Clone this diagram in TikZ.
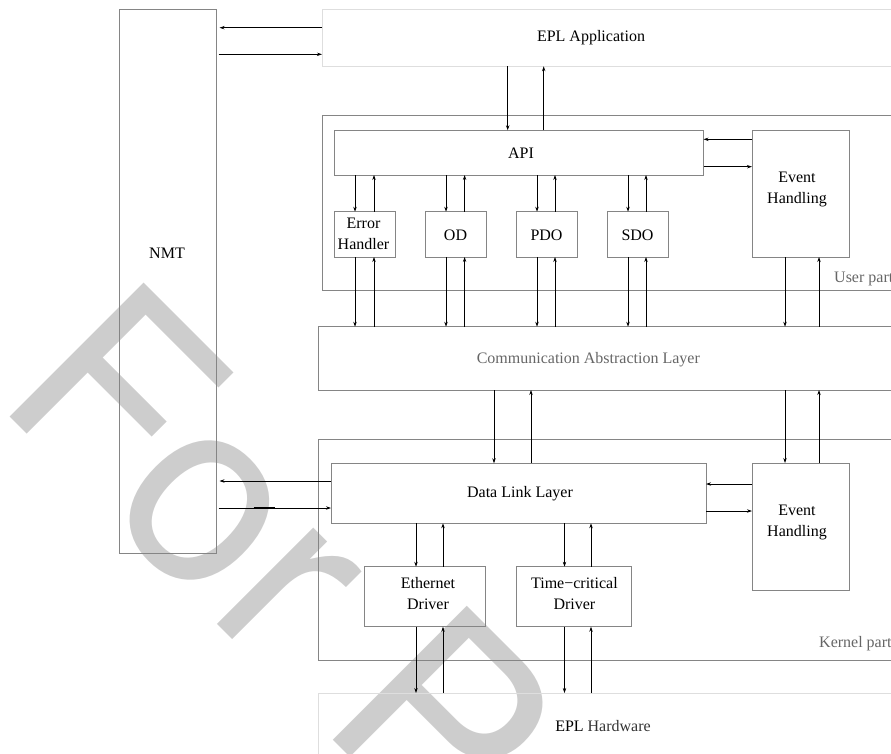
\documentclass[tikz,border=0pt]{standalone}
\usepackage{fontspec}
\setmainfont{Liberation Serif}
\newfontfamily\wmfont{TeX Gyre Heros}
\usetikzlibrary{arrows.meta}
\definecolor{edgegray}{HTML}{858585}
\definecolor{palegray}{HTML}{DEDEDE}
\definecolor{notegray}{HTML}{666666}
\definecolor{markgray}{HTML}{CDCDCD}
\newcommand\diagfont{\fontsize{16}{21}\selectfont}
\begin{document}
\begin{tikzpicture}[x=1pt,y=-1pt,
  box/.style={draw=edgegray,line width=0.9pt,inner sep=0pt,outer sep=0pt},
  pale/.style={draw=palegray,line width=0.9pt,inner sep=0pt,outer sep=0pt},
  txt/.style={inner sep=0pt,align=center,font=\diagfont},
  note/.style={inner sep=0pt,font=\diagfont,text=notegray},
  arr/.style={draw=black,line width=0.75pt,-{Stealth[length=5pt,width=3.4pt]}},
]
\useasboundingbox (0,0) rectangle (891,753);
\clip (0,0) rectangle (891,753);

% stamp lettering behind the drawing
\node[rotate=-45,anchor=base west,inner sep=0pt,text=markgray,
      font=\wmfont\fontsize{260}{260}\selectfont] (stamp) at (-7,400) {For Peer Review};

% frames
\node[box,minimum width=97pt,minimum height=544pt] (nmt) at (168,281.4) {};
\node[pale,minimum width=640pt,minimum height=57pt] (app) at (642,37.8) {};
\node[box,minimum width=640pt,minimum height=175.7pt] (user) at (642,202.85) {};
\node[box,minimum width=369.5pt,minimum height=44.7pt] (api) at (518.75,152.65) {};
\node[box,minimum width=97pt,minimum height=127pt] (uev) at (800.5,193.5) {};
\node[box,minimum width=61pt,minimum height=45.3pt] (eh) at (364.5,234.35) {};
\node[box,minimum width=61pt,minimum height=45.3pt] (od) at (455.5,234.35) {};
\node[box,minimum width=61pt,minimum height=45.3pt] (pdo) at (546.5,234.35) {};
\node[box,minimum width=61pt,minimum height=45.3pt] (sdo) at (637.5,234.35) {};
\node[box,minimum width=642pt,minimum height=63.3pt] (cal) at (639.8,358.35) {};
\node[box,minimum width=642pt,minimum height=221pt] (kern) at (639.8,549.5) {};
\node[box,minimum width=375pt,minimum height=60pt] (dll) at (518.5,493.3) {};
\node[box,minimum width=97pt,minimum height=127pt] (kev) at (800.5,526.5) {};
\node[box,minimum width=121.5pt,minimum height=60pt] (eth) at (424.75,596.7) {};
\node[box,minimum width=115.7pt,minimum height=60pt] (tcd) at (573.85,596.7) {};
\node[pale,minimum width=642pt,minimum height=107pt] (hw) at (639.8,746.5) {};

% labels
\node[txt,anchor=base] (nmtlbl) at (167,258) {NMT};
\node[txt,anchor=base] (applbl) at (591,41.5) {EPL Application};
\node[txt,anchor=base] (apilbl) at (521,158.5) {API};
\node[txt] (uevlbl) at (797,189.4) {Event\\Handling};
\node[txt] (ehlbl) at (363.5,234.2) {\fontsize{16}{18}\selectfont Error\\Handler};
\node[txt,anchor=base] (odlbl) at (455.5,240) {OD};
\node[txt,anchor=base] (pdolbl) at (546.5,240) {PDO};
\node[txt,anchor=base] (sdolbl) at (637.5,240) {SDO};
\node[note,anchor=base west] (userlbl) at (834,282.3) {User part};
\node[note,anchor=base] (callbl) at (588.3,363.6) {Communication Abstraction Layer};
\node[txt,anchor=base] (dlllbl) at (520,497.5) {Data Link Layer};
\node[txt] (kevlbl) at (797,522.4) {Event\\Handling};
\node[txt] (ethlbl) at (428,593.7) {Ethernet\\Driver};
\node[txt] (tcdlbl) at (574.4,593.7) {Time−critical\\Driver};
\node[note,anchor=base west] (kernlbl) at (819,647.3) {Kernel part};
\node[txt,anchor=base] (hwlbl) at (603,731) {EPL \textcolor{black!80}{Hardware}};

% columns and rows used by the connectors
\coordinate (cA) at (507.7,0);  \coordinate (cB) at (543.7,0);
\coordinate (e1) at (355,0);    \coordinate (e2) at (374,0);
\coordinate (o1) at (446,0);    \coordinate (o2) at (464.6,0);
\coordinate (p1) at (537,0);    \coordinate (p2) at (555,0);
\coordinate (s1) at (628,0);    \coordinate (s2) at (646,0);
\coordinate (v1) at (785,0);    \coordinate (v2) at (819,0);
\coordinate (d1) at (494,0);    \coordinate (d2) at (531,0);
\coordinate (t1) at (416,0);    \coordinate (t2) at (443,0);
\coordinate (u1) at (564.5,0);  \coordinate (u2) at (591,0);
\coordinate (r1) at (0,27.7);   \coordinate (r2) at (0,54.3);
\coordinate (r3) at (0,139.3);  \coordinate (r4) at (0,166.7);
\coordinate (r5) at (0,481);    \coordinate (r6) at (0,508);
\coordinate (r7) at (0,484);    \coordinate (r8) at (0,511);

% application <-> NMT and API
\draw[arr,shorten >=3pt] (app.west |- r1) -- (nmt.east |- r1);
\draw[arr,shorten <=2pt] (nmt.east |- r2) -- (app.west |- r2);
\draw[arr] (app.south -| cA) -- (api.north -| cA);
\draw[arr] (api.north -| cB) -- (app.south -| cB);

% API <-> event handling
\draw[arr] (uev.west |- r3) -- (api.east |- r3);
\draw[arr] (api.east |- r4) -- (uev.west |- r4);

% API <-> user modules
\foreach \m/\a/\b in {eh/e1/e2, od/o1/o2, pdo/p1/p2, sdo/s1/s2} {
  \draw[arr] (api.south -| \a) -- (\m.north -| \a);
  \draw[arr] (\m.north -| \b) -- (api.south -| \b);
  \draw[arr] (\m.south -| \a) -- (cal.north -| \a);
  \draw[arr] (cal.north -| \b) -- (\m.south -| \b);
}
\draw[arr] (uev.south -| v1) -- (cal.north -| v1);
\draw[arr] (cal.north -| v2) -- (uev.south -| v2);

% abstraction layer <-> kernel part
\draw[arr] (cal.south -| d1) -- (dll.north -| d1);
\draw[arr] (dll.north -| d2) -- (cal.south -| d2);
\draw[arr] (cal.south -| v1) -- (kev.north -| v1);
\draw[arr] (kev.north -| v2) -- (cal.south -| v2);

% data link layer <-> NMT and event handling
\draw[arr,shorten >=3pt] (dll.west |- r5) -- (nmt.east |- r5);
\draw[arr,shorten <=2pt] (nmt.east |- r6) -- (dll.west |- r6);
\draw[line width=2.2pt] ([xshift=37pt]nmt.east |- r6) -- ([xshift=58pt]nmt.east |- r6);
\draw[arr] (kev.west |- r7) -- (dll.east |- r7);
\draw[arr] (dll.east |- r8) -- (kev.west |- r8);

% drivers
\draw[arr] (dll.south -| t1) -- (eth.north -| t1);
\draw[arr] (eth.north -| t2) -- (dll.south -| t2);
\draw[arr] (dll.south -| u1) -- (tcd.north -| u1);
\draw[arr] (tcd.north -| u2) -- (dll.south -| u2);
\draw[arr] (eth.south -| t1) -- (hw.north -| t1);
\draw[arr] (hw.north -| t2) -- (eth.south -| t2);
\draw[arr] (tcd.south -| u1) -- (hw.north -| u1);
\draw[arr] (hw.north -| u2) -- (tcd.south -| u2);
\end{tikzpicture}
\end{document}
